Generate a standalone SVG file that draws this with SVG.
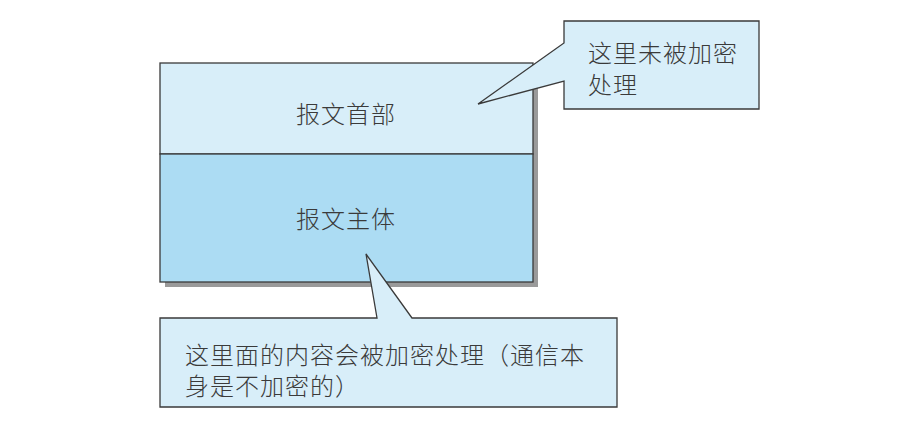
<svg xmlns="http://www.w3.org/2000/svg" width="906" height="442" viewBox="0 0 906 442">
<style>
.t{font-family:"Noto Sans CJK SC","Noto Sans",sans-serif;font-size:24px;font-weight:300;fill:#3a3a3a;letter-spacing:1px}
.b{stroke:#3a3a3a;stroke-width:1.3}
.call{fill:#d8eef9;stroke:#3a3a3a;stroke-width:1.3;stroke-linejoin:miter}
</style>
<rect width="906" height="442" fill="#ffffff"/>
<g id="message">
<rect x="165" y="68" width="373" height="219" fill="#9a9a9a"/>
<rect x="160" y="63" width="373" height="91" fill="#d8eef9" class="b"/>
<rect x="160" y="154" width="373" height="128" fill="#acdcf3" class="b"/>
<text class="t" x="296" y="123">报文首部</text>
<text class="t" x="296" y="228">报文主体</text>
</g>
<g id="connectors">
<path class="call" d="M564,21 H759 V109 H564 V81 L478,104 L564,43 Z"/>
<path class="call" d="M160,318 H377 L366,254 L412,318 H617 V407 H160 Z"/>
</g>
<g id="callout-header">
<text class="t" x="588" y="62">这里未被加密</text>
<text class="t" x="588" y="94">处理</text>
</g>
<g id="callout-body">
<text class="t" x="185" y="364">这里面的内容会被加密处理（通信本</text>
<text class="t" x="185" y="395">身是不加密的）</text>
</g>
</svg>
